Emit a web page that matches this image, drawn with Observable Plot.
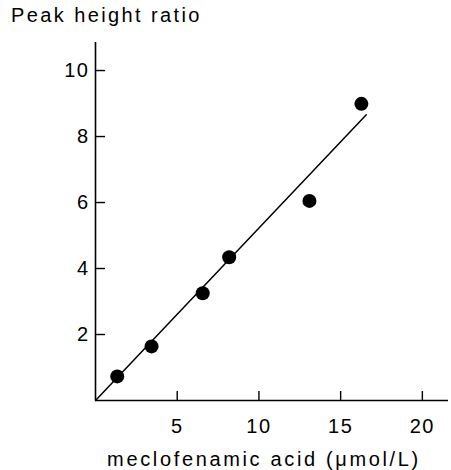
<!DOCTYPE html>
<html>
<head>
<meta charset="utf-8">
<script src="https://cdn.jsdelivr.net/npm/d3@7"></script>
<script src="https://cdn.jsdelivr.net/npm/@observablehq/plot@0.6"></script>
<style>
  html, body { margin: 0; padding: 0; background: #fff; }
  #title { height: 34px; box-sizing: border-box; padding: 3px 0 0 11px; font: 20px "Liberation Sans", Arial, sans-serif; letter-spacing: 2.4px; line-height: 24px; color: #000; }
  #chart svg text { letter-spacing: 1.5px; }
  #chart svg .xlabel text { letter-spacing: 2.65px; }
</style>
</head>
<body>
<div id="title">Peak height ratio</div>
<div id="chart"></div>
<script>
// Measured points
const concentration = [1.33, 3.43, 6.56, 8.18, 13.09, 16.27];
const peakRatio     = [0.73, 1.64, 3.25, 4.34, 6.05, 8.99];
// Fitted line end points
const fitX = [0, 16.57];
const fitY = [0, 8.66];
const xTicks = [5, 10, 15, 20];
const yTicks = [2, 4, 6, 8, 10];
const xLabel = "meclofenamic acid (μmol/L)";

const points = concentration.map((x, i) => ({x, y: peakRatio[i]}));
const fit = fitX.map((x, i) => ({x, y: fitY[i]}));

const plot = Plot.plot({
  width: 451,
  height: 436,
  marginLeft: 95,
  marginRight: 3,
  marginTop: 8,
  marginBottom: 70,
  style: {fontFamily: "'Liberation Sans', Arial, sans-serif", fontSize: "20px", background: "#fff", color: "#000"},
  x: {domain: [0, 21.6]},
  y: {domain: [0, 10.85]},
  marks: [
    Plot.ruleX([0], {stroke: "#000", strokeWidth: 1.6}),
    Plot.ruleY([0], {stroke: "#000", strokeWidth: 1.6}),
    Plot.axisX({ticks: xTicks, tickSize: -9, tickPadding: 27, tickFormat: d => d, label: null, fontSize: 20, stroke: "#000", strokeWidth: 1.4, fill: "#000"}),
    Plot.axisY({ticks: yTicks, tickSize: -10, tickPadding: 16, tickFormat: d => d, label: null, fontSize: 20, stroke: "#000", strokeWidth: 1.4, fill: "#000"}),
    Plot.line(fit, {x: "x", y: "y", stroke: "#000", strokeWidth: 1.5}),
    Plot.dot(points, {x: "x", y: "y", r: 7, fill: "#000", stroke: "none"}),
    Plot.text([xLabel], {frameAnchor: "bottom", dy: 65, dx: -8, text: d => d, fontSize: 20, fill: "#000", className: "xlabel"})
  ]
});
document.getElementById("chart").appendChild(plot);
</script>
</body>
</html>
